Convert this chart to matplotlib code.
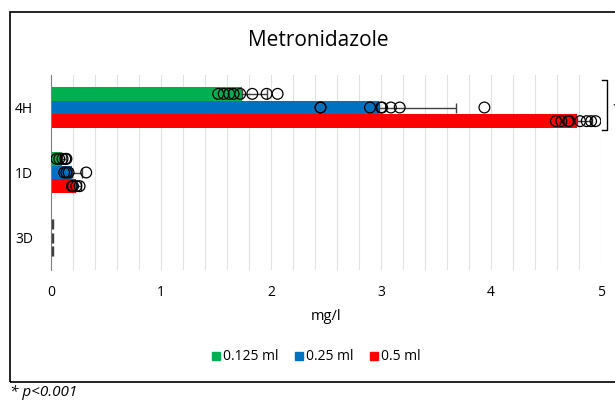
import matplotlib
matplotlib.use("Agg")
import matplotlib.pyplot as plt
import numpy as np
from matplotlib.patches import Rectangle
from matplotlib.lines import Line2D

plt.rcParams["font.family"] = ["Open Sans", "DejaVu Sans"]

# data
categories = ["4H", "1D", "3D"]
series = ["0.125 ml", "0.25 ml", "0.5 ml"]
colors = ["#00B050", "#0070C0", "#FF0000"]

mean_0125 = [1.74, 0.10, 0.01]
mean_025 = [2.98, 0.19, 0.01]
mean_05 = [4.78, 0.23, 0.01]

sd_0125 = [0.22, 0.04, 0.004]
sd_025 = [0.70, 0.09, 0.004]
sd_05 = [0.14, 0.04, 0.004]

pts_0125 = [[1.52, 1.57, 1.62, 1.66, 1.72, 1.83, 1.96, 2.06],
            [0.05, 0.075, 0.105, 0.13, 0.14], []]
pts_025 = [[2.45, 2.45, 2.90, 3.00, 3.01, 3.09, 3.17, 3.94],
           [0.12, 0.14, 0.16, 0.32], []]
pts_05 = [[4.59, 4.64, 4.70, 4.71, 4.81, 4.87, 4.91, 4.95],
          [0.19, 0.20, 0.23, 0.26], []]

means = [mean_0125, mean_025, mean_05]
sds = [sd_0125, sd_025, sd_05]
pts = [pts_0125, pts_025, pts_05]

fig = plt.figure(figsize=(6.15, 4.01), dpi=100)
ax = fig.add_axes([51/615, 1-270/401, 550/615, 195/401])

# outer frame of the chart
fig.patches.append(Rectangle((10/615, 1-382/401), 620/615, 370/401,
                             transform=fig.transFigure, fill=False,
                             edgecolor="black", lw=1.2))

bh = 0.21
ypos = np.arange(len(categories))
for i in range(3):
    off = (i - 1) * bh
    yy = ypos + off
    ax.barh(yy, means[i], height=bh, color=colors[i], zorder=2)
    ax.errorbar(means[i], yy, xerr=[np.zeros(3), sds[i]], fmt="none",
                ecolor="#404040", elinewidth=1, capsize=3.5, zorder=3)
    for c in range(3):
        if pts[i][c]:
            ax.scatter(pts[i][c], [yy[c]] * len(pts[i][c]), s=60,
                       facecolors="none", edgecolors="black",
                       linewidths=0.9, zorder=4)

ax.set_xlim(0, 5)
ax.set_ylim(2.5, -0.5)
ax.set_yticks(ypos)
ax.set_yticklabels(categories, fontsize=10)
ax.set_xticks(range(6))
ax.tick_params(axis="x", labelsize=10, length=0, pad=11)
ax.tick_params(axis="y", length=0, pad=13)
ax.set_xticks(np.arange(0, 5.01, 0.2), minor=True)
ax.tick_params(axis="x", which="minor", length=0)
ax.grid(axis="x", which="both", color="#E2E2E2", lw=0.8, zorder=0)
for s in ["top", "right", "bottom"]:
    ax.spines[s].set_visible(False)
ax.spines["left"].set_color("#808080")
ax.set_xlabel("mg/l", fontsize=10.5, labelpad=6)

# significance bracket
bx = 5.01
ax.plot([bx, bx + 0.04, bx + 0.04, bx], [-0.5 + 0.07, -0.5 + 0.07, 0.35, 0.35],
        color="black", lw=1, clip_on=False)
ax.text(bx + 0.09, 0.02, "*", fontsize=11, ha="left", va="center")

fig.text(318/615, 1-40/401, "Metronidazole", fontsize=15, ha="center", va="center")

handles = [Line2D([0], [0], marker="s", ls="none", color=c, markersize=6)
           for c in colors]
fig.legend(handles, series, loc="center", bbox_to_anchor=(315/615, 1-357/401),
           ncol=3, frameon=False, fontsize=10, handletextpad=0.0,
           handlelength=1.0, columnspacing=1.0)

fig.text(10/615, 1-393/401, "* p<0.001", fontsize=11, style="italic",
         ha="left", va="center")

fig.savefig("out.png", dpi=100)
